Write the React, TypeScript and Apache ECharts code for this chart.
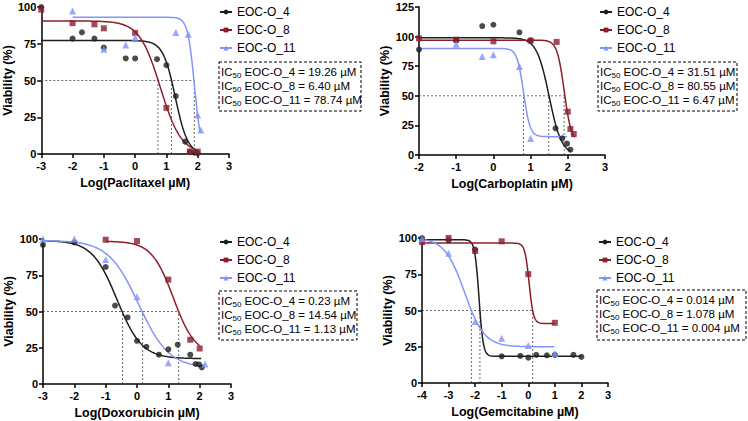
import React, { useEffect, useRef } from 'react';
import * as echarts from 'echarts';

// ---------- shared ----------
const seriesNames = ['EOC-O_4', 'EOC-O_8', 'EOC-O_11'];
const seriesColors = ['#1e1e1e', '#8b1e2c', '#8394fa'];
const seriesSymbols = ['circle', 'rect', 'triangle'];
const seriesSymbolSizes = [6, 6, 7];

// ---------- Panel 1 : Paclitaxel ----------
const pacX4 = [-3, -2, -1.7, -1.3, -1, -0.3, 0, 0.7, 1, 1.3, 1.6, 1.75, 1.9, 2.0];
const pacY4 = [100, 78.5, 82.8, 78.5, 72.4, 65, 65, 64.5, 60.4, 39.4, 8.4, 1.6, 0.9, 0.5];
const pacX8 = [-3, -2, -1.3, -1, 0, 1, 1.75, 2.0];
const pacY8 = [98.2, 89, 88.2, 85.5, 82.4, 31.4, 1.6, 1.6];
const pacX11 = [-2, -1, -0.3, 0, 1.3, 1.7, 2.0, 2.1];
const pacY11 = [97.3, 71.3, 74.2, 79.2, 82.6, 81.4, 26.5, 16.3];
const pacIC50 = [19.26, 6.40, 78.74];
const pacIC50Text = ['19.26', '6.40', '78.74'];
const pacTop = [77.2, 90.5, 93];
const pacBottom = [0, 0, 0];
const pacHill = [2.2, 1.3, 4];
const pacRange = [[-3, 2.0], [-3, 2.0], [-2, 2.08]];
const pacCross = [1.16, 0.73, 1.89];

// ---------- Panel 2 : Carboplatin ----------
const carX4 = [-2, -1, -0.3, 0, 0.7, 1, 1.67, 1.85, 1.98, 2.07];
const carY4 = [89, 96.8, 108.9, 110, 103.6, 96.8, 22.5, 14.1, 9.6, 4.5];
const carX8 = [-2, -1, 0, 1, 1.7, 2.0, 2.07, 2.16];
const carY8 = [98.5, 97.4, 96, 96.5, 95.5, 36.6, 22, 17.7];
const carX11 = [-1, -0.3, 0, 0.7, 1];
const carY11 = [93.5, 83.1, 84.6, 74.7, 14];
const carIC50 = [31.51, 80.55, 6.47];
const carIC50Text = ['31.51', '80.55', '6.47'];
const carTop = [99, 97, 90];
const carBottom = [0, 10, 15.5];
const carHill = [2.6, 4.5, 5];
const carRange = [[-2, 2.07], [-2, 2.18], [-2, 1.98]];
const carCross = [1.49, 1.9, 0.81];

// ---------- Panel 3 : Doxorubicin ----------
const doxX4 = [-3, -2, -1, -0.7, -0.3, 0, 0.3, 0.7, 1, 1.3, 1.7, 1.87, 1.98, 2.07];
const doxY4 = [95.9, 97.7, 80.7, 54.1, 45.9, 29.8, 25.7, 20.2, 23.9, 27.1, 20.2, 13.8, 13.5, 11.5];
const doxX8 = [-1, 0, 1, 1.7, 2.0];
const doxY8 = [99.5, 98.6, 72, 30.5, 24.5];
const doxX11 = [-3, -2, -1, 0, 1, 2.17];
const doxY11 = [100, 100, 85.8, 60.1, 14.7, 13.8];
const doxIC50 = [0.23, 14.54, 1.13];
const doxIC50Text = ['0.23', '14.54', '1.13'];
const doxTop = [99, 98.5, 99];
const doxBottom = [17.5, 20, 11];
const doxHill = [1.1, 1.25, 0.9];
const doxRange = [[-3, 2.07], [-1, 2.0], [-3, 2.1]];
const doxCross = [-0.46, 1.33, 0.18];

// ---------- Panel 4 : Gemcitabine ----------
const gemX4 = [-4, -3, -2, -1, -0.3, 0, 0.3, 0.7, 1, 1.7, 2];
const gemY4 = [100, 98.4, 92, 18.4, 18.7, 17.5, 19.4, 19.1, 19.4, 19.4, 18];
const gemX8 = [-4, -3, -2, -1, 0, 1];
const gemY8 = [97.2, 100, 91, 97.7, 75.1, 41.5];
const gemX11 = [-4, -3, -2, -1, 0, 1];
const gemY11 = [99.5, 89.4, 42.4, 30.9, 25.8, 20.3];
const gemIC50 = [0.014, 1.078, 0.004];
const gemIC50Text = ['0.014', '1.078', '0.004'];
const gemTop = [98.8, 96.5, 100];
const gemBottom = [18.4, 41, 25];
const gemHill = [5.5, 5.4, 1.17];
const gemRange = [[-4, 2], [-4, 1], [-4, 1]];
const gemCross = [-1.82, 0.165, -2.14];

const FONT = 'Arial, "Liberation Sans", sans-serif';

type Panel = {
  title: string;
  grid: { left: number; top: number; width: number; height: number };
  xMin: number; xMax: number; yMax: number;
  xs: number[][]; ys: number[][];
  ic50: number[]; ic50Text: string[];
  top: number[]; bottom: number[]; hill: number[]; range: number[][];
  cross: number[];
  legend: { left: number; top: number };
  box: { x: number; y: number; w: number; h: number };
};

const panels: Panel[] = [
  {
    title: 'Log(Paclitaxel µM)', grid: { left: 41, top: 7, width: 188, height: 147 },
    xMin: -3, xMax: 3, yMax: 100,
    xs: [pacX4, pacX8, pacX11], ys: [pacY4, pacY8, pacY11],
    ic50: pacIC50, ic50Text: pacIC50Text, top: pacTop, bottom: pacBottom, hill: pacHill, range: pacRange, cross: pacCross,
    legend: { left: 219, top: 6 }, box: { x: 219, y: 62, w: 142, h: 49 },
  },
  {
    title: 'Log(Carboplatin µM)', grid: { left: 419, top: 7, width: 186, height: 148 },
    xMin: -2, xMax: 3, yMax: 125,
    xs: [carX4, carX8, carX11], ys: [carY4, carY8, carY11],
    ic50: carIC50, ic50Text: carIC50Text, top: carTop, bottom: carBottom, hill: carHill, range: carRange, cross: carCross,
    legend: { left: 599, top: 6 }, box: { x: 598, y: 62, w: 139, h: 49 },
  },
  {
    title: 'Log(Doxorubicin µM)', grid: { left: 43, top: 239, width: 188, height: 145 },
    xMin: -3, xMax: 3, yMax: 100,
    xs: [doxX4, doxX8, doxX11], ys: [doxY4, doxY8, doxY11],
    ic50: doxIC50, ic50Text: doxIC50Text, top: doxTop, bottom: doxBottom, hill: doxHill, range: doxRange, cross: doxCross,
    legend: { left: 219, top: 236 }, box: { x: 219, y: 291, w: 138, h: 49 },
  },
  {
    title: 'Log(Gemcitabine µM)', grid: { left: 422, top: 238, width: 186, height: 145 },
    xMin: -4, xMax: 3, yMax: 100,
    xs: [gemX4, gemX8, gemX11], ys: [gemY4, gemY8, gemY11],
    ic50: gemIC50, ic50Text: gemIC50Text, top: gemTop, bottom: gemBottom, hill: gemHill, range: gemRange, cross: gemCross,
    legend: { left: 598, top: 236 }, box: { x: 597, y: 290, w: 149, h: 50 },
  },
];

// fitted four-parameter logistic curve from the parameters read above
function fitCurve(top: number, bottom: number, ic50: number, hill: number, x0: number, x1: number) {
  const logIC = Math.log10(ic50);
  const pts: number[][] = [];
  const n = 240;
  for (let i = 0; i <= n; i++) {
    const x = x0 + ((x1 - x0) * i) / n;
    pts.push([x, bottom + (top - bottom) / (1 + Math.pow(10, (x - logIC) * hill))]);
  }
  return pts;
}

function buildOption() {
  const grid: any[] = [];
  const xAxis: any[] = [];
  const yAxis: any[] = [];
  const series: any[] = [];
  const legend: any[] = [];
  const graphic: any[] = [];

  panels.forEach((p, pi) => {
    grid.push({ ...p.grid, containLabel: false });
    const axisLine = { show: true, onZero: false, lineStyle: { color: '#000', width: 1.5 } };
    const axisTick = { show: true, length: 4, inside: false, lineStyle: { color: '#000', width: 1.5 } };
    xAxis.push({
      type: 'value', gridIndex: pi, min: p.xMin, max: p.xMax, interval: 1,
      axisLine, axisTick, splitLine: { show: false },
      axisLabel: { margin: 6, fontSize: 11, fontWeight: 'bold', color: '#000', fontFamily: FONT },
      name: p.title, nameLocation: 'middle', nameGap: 22,
      nameTextStyle: { fontSize: 12.5, fontWeight: 'bold', color: '#000', fontFamily: FONT },
    });
    yAxis.push({
      type: 'value', gridIndex: pi, min: 0, max: p.yMax, interval: 25,
      axisLine, axisTick, splitLine: { show: false },
      axisLabel: { margin: 5, fontSize: 11, fontWeight: 'bold', color: '#000', fontFamily: FONT },
      name: 'Viability (%)', nameLocation: 'middle', nameGap: 24,
      nameTextStyle: { fontSize: 12.5, fontWeight: 'bold', color: '#000', fontFamily: FONT },
    });

    // dotted guide lines at 50 %
    const maxCross = Math.max(...p.cross);
    const dotStyle = { color: '#444', width: 0.8, type: [2, 2] };
    const segs: number[][][] = [[[p.xMin, 50], [maxCross, 50]]];
    p.cross.forEach((c) => segs.push([[c, 0], [c, 50]]));
    segs.forEach((s) => {
      series.push({
        type: 'line', xAxisIndex: pi, yAxisIndex: pi, data: s, showSymbol: false, silent: true,
        lineStyle: dotStyle, z: 1,
      });
    });

    for (let k = 0; k < 3; k++) {
      series.push({
        name: seriesNames[k], type: 'line', xAxisIndex: pi, yAxisIndex: pi,
        data: fitCurve(p.top[k], p.bottom[k], p.ic50[k], p.hill[k], p.range[k][0], p.range[k][1]),
        showSymbol: false, symbol: seriesSymbols[k], symbolSize: seriesSymbolSizes[k],
        color: seriesColors[k], lineStyle: { color: seriesColors[k], width: 1.5 }, z: 2, silent: true,
      });
      series.push({
        name: seriesNames[k] + ' points', type: 'scatter', xAxisIndex: pi, yAxisIndex: pi,
        data: p.xs[k].map((x, i) => [x, p.ys[k][i]]),
        symbol: seriesSymbols[k], symbolSize: seriesSymbolSizes[k],
        itemStyle: { color: seriesColors[k] }, z: 3, silent: true,
      });
    }

    legend.push({
      data: seriesNames, orient: 'vertical', left: p.legend.left, top: p.legend.top,
      padding: 0, itemWidth: 12, itemHeight: 6, itemGap: 6, selectedMode: false,
      textStyle: { fontSize: 12, color: '#000', fontFamily: FONT },
    });

    graphic.push({
      type: 'rect', shape: { x: p.box.x, y: p.box.y, width: p.box.w, height: p.box.h },
      style: { fill: 'none', stroke: '#000', lineWidth: 1, lineDash: [3, 2] }, silent: true,
    });
    for (let k = 0; k < 3; k++) {
      graphic.push({
        type: 'text', x: p.box.x + 2, y: p.box.y + 3 + k * 14,
        style: {
          text: `{a|IC}{s|50}{a| ${seriesNames[k]} = ${p.ic50Text[k]} µM}`,
          fill: '#000',
          rich: {
            a: { fontSize: 11.5, fontFamily: FONT, lineHeight: 14, fill: '#000' },
            s: { fontSize: 8, fontFamily: FONT, lineHeight: 9, verticalAlign: 'bottom', fill: '#000' },
          },
        },
        silent: true,
      });
    }
  });

  return { animation: false, backgroundColor: '#fff', grid, xAxis, yAxis, series, legend, graphic };
}

export default function App() {
  const ref = useRef<HTMLDivElement>(null);
  useEffect(() => {
    if (!ref.current) return;
    const chart = echarts.init(ref.current, undefined, { renderer: 'svg' });
    chart.setOption(buildOption() as any);
    return () => chart.dispose();
  }, []);
  return (
    <div
      ref={ref}
      style={{ position: 'fixed', left: 0, top: 0, width: 748, height: 421, background: '#fff' }}
    />
  );
}
